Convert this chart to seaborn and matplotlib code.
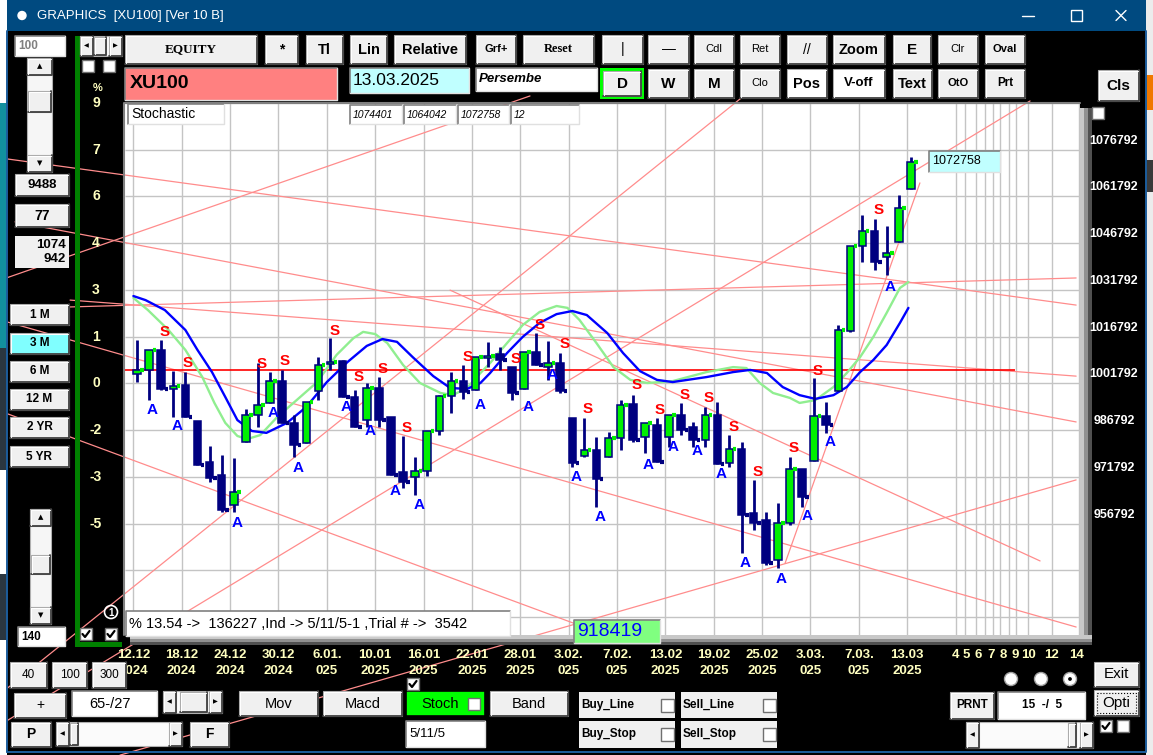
import matplotlib
matplotlib.use("Agg")
import matplotlib.pyplot as plt
import matplotlib.patches as mpatches
import matplotlib.transforms as mtransforms
from matplotlib import font_manager
import numpy as np
import seaborn as sns

# XU100 daily candles, 12.12.2024 .. 13.03.2025 (index points)
opens = [1004800, 1006100, 1012500, 1000000, 1001300, 989700, 976500, 972400, 962800, 983000,
         991600, 995500, 1002500, 989100, 982600, 999300, 1008000, 1009000, 997400, 990000,
         1000300, 991000, 973300, 971700, 973700, 986500, 997700, 1002500, 999700, 1009900,
         1011200, 1007000, 1000000, 1011800, 1007000, 1008300, 990700, 978500, 980400, 978200,
         984300, 995200, 984600, 988400, 984600, 991600, 987800, 983600, 991600, 976200,
         980700, 960200, 957900, 945100, 957000, 974300, 976900, 991300, 999300, 1018600,
         1045900, 1050700, 1042300, 1047100, 1064042]
highs = [1015700, 1012500, 1015700, 1005700, 1005400, 989700, 981700, 978800, 977800, 993600,
         1008300, 1005400, 1006100, 991600, 995800, 1010200, 1016300, 1009300, 999700, 1001900,
         1003800, 991000, 984900, 978200, 986500, 998000, 1005400, 1007700, 1010200, 1015100,
         1013400, 1007000, 1011800, 1017900, 1015400, 1011500, 990700, 990700, 984600, 986200,
         996400, 998000, 989100, 990700, 991600, 995500, 989400, 994200, 995800, 985200,
         983000, 970800, 960500, 963400, 978200, 974300, 1003500, 995800, 1020500, 1045900,
         1055800, 1054500, 1052300, 1062200, 1074401]
lows = [1002200, 996400, 999700, 991000, 991000, 975600, 970100, 960500, 960500, 983000,
        987800, 995500, 989100, 978200, 982600, 996400, 1006100, 997400, 987800, 987800,
        987800, 972400, 968200, 966000, 972100, 985200, 992300, 996800, 999700, 1007000,
        1006100, 996400, 1000000, 1007700, 1002900, 998700, 974900, 978200, 962100, 978200,
        980400, 983000, 979400, 976500, 981400, 985200, 981400, 981400, 975900, 974900,
        947400, 954700, 943500, 942500, 956400, 962100, 976900, 985900, 999300, 1018300,
        1040700, 1038200, 1036500, 1047100, 1064042]
closes = [1006100, 1012500, 1000000, 1000900, 991000, 975600, 971400, 961100, 966900, 991600,
          994800, 1002500, 989100, 982000, 995800, 1007700, 1008600, 997400, 987800, 1000300,
          990000, 972400, 970100, 973700, 986500, 997700, 1002500, 999000, 1010200, 1010600,
          1009300, 998700, 1011800, 1007700, 1008300, 999300, 976200, 980400, 971100, 984300,
          994800, 983600, 989100, 976500, 991600, 986800, 983600, 991600, 975900, 980700,
          959500, 957000, 944100, 957000, 974300, 965300, 991300, 988400, 1018900, 1045900,
          1050700, 1040700, 1043600, 1058000, 1072758]

# stochastic overlay curves (day, level)
blue_day = [0.0, 1.0, 2.6, 4.3, 5.3, 6.5, 7.6, 8.6, 9.8, 11.0, 12.7, 14.3, 16.0, 17.7, 19.3, 20.6,
            21.8, 23.1, 24.8, 26.2, 27.6, 28.7, 29.5, 30.9, 32.2, 33.6, 35.0, 36.3, 37.5, 39.2,
            40.5, 41.9, 43.3, 44.6, 47.4, 49.6, 51.0, 52.4, 53.7, 55.1, 56.4, 57.9, 59.0, 60.1,
            61.2, 62.3, 63.4, 64.1]
blue_val = [1029800, 1028500, 1025300, 1018900, 1012500, 1005400, 997400, 990000, 986500, 985900,
            989100, 994200, 1002200, 1008600, 1013800, 1016000, 1015100, 1010200, 1004100, 1000300,
            1000000, 1001900, 1005100, 1011500, 1016700, 1021200, 1024000, 1025000, 1023700, 1017900,
            1011500, 1005700, 1002900, 1002200, 1003800, 1005400, 1006100, 1005100, 1000600, 998000,
            996800, 998000, 1000600, 1005400, 1009300, 1014100, 1021200, 1026000]
green_day = [0.0, 1.2, 2.9, 4.3, 5.7, 6.7, 7.6, 8.6, 9.4, 10.5, 11.9, 13.5, 15.2, 16.8, 18.2, 19.0,
             20.0, 21.0, 22.3, 23.7, 25.4, 26.4, 27.6, 28.7, 29.5, 30.9, 32.2, 33.6, 35.0, 35.9,
             36.9, 38.3, 39.7, 41.1, 42.5, 44.6, 47.4, 49.6, 50.7, 51.8, 52.9, 54.3, 55.1, 56.4,
             57.9, 59.0, 60.1, 61.2, 62.3, 63.4, 64.1]
green_val = [1029200, 1025300, 1018900, 1012500, 1003800, 995500, 989100, 984900, 983900, 985200,
             991000, 996400, 1002200, 1010900, 1016300, 1018300, 1017600, 1014700, 1007700, 1001900,
             998700, 998000, 1000300, 1005100, 1008300, 1014700, 1020500, 1024700, 1026600, 1026000,
             1022100, 1014700, 1007000, 1002900, 1001900, 1002500, 1005400, 1007000, 1006700, 1001900,
             998700, 997100, 995500, 996400, 1000600, 1005100, 1010200, 1016700, 1024400, 1032400,
             1034300]

# signal marks
sell_day = [2.60, 4.52, 10.60, 12.54, 16.63, 18.62, 20.65, 22.61, 27.66, 31.60, 33.63, 35.68,
            37.60, 41.61, 43.56, 45.62, 47.61, 49.64, 51.64, 54.64, 56.63, 61.64]
sell_val = [1018300, 1008200, 1008000, 1009000, 1018700, 1003800, 1006400, 987500, 1010200,
            1009600, 1020600, 1014300, 993600, 1001100, 993200, 998200, 997100, 987800, 973400,
            980900, 1005800, 1057500]
buy_day = [1.53, 3.61, 8.60, 11.57, 13.60, 17.61, 19.60, 21.64, 23.62, 28.67, 32.64, 34.67,
           36.65, 38.64, 42.56, 44.66, 46.66, 48.63, 50.63, 53.56, 55.70, 57.62, 62.56]
buy_val = [993200, 988100, 957000, 992300, 974600, 994200, 986500, 967200, 962800, 994800,
           994300, 1004500, 971600, 958900, 975600, 981500, 980200, 972700, 944000, 938900,
           959300, 983000, 1032700]

# drawn trend lines: start day, start level, end day, end level
trend_x0 = [-10.45, -9.79, -11.03, -5.24, -5.24, -10.45, 26.19, -11.03, -11.03, -11.03, -1.11, 53.9]
trend_y0 = [1073800, 1053600, 1034900, 1026300, 1028500, 1021500, 1031700, 992900, 902100,
            892200, 882500, 944100]
trend_x1 = [77.97, 77.97, 32.8, 77.97, 77.97, 77.97, 74.99, 38.59, 50.58, 74.16, 77.97, 65.05]
trend_y1 = [1026900, 989400, 1094000, 1035600, 1004100, 923600, 944800, 921700, 1094300,
            1092400, 970800, 1066100]
ref_level = 1006100

price_grid = [926792, 941792, 956792, 971792, 986792, 1001792, 1016792, 1031792, 1046792,
              1061792, 1076792, 1091792]
right_labels = [1076792, 1061792, 1046792, 1031792, 1016792, 1001792, 986792, 971792, 956792]
pct_levels = [1091792, 1076792, 1061792, 1046792, 1031792, 1016792, 1001792, 986792, 971792, 956792]
pct_labels = ["9", "7", "6", "4", "3", "1", "0", "-2", "-3", "-5"]

date_top = ["12.12", "18.12", "24.12", "30.12", "6.01.", "10.01", "16.01", "22.01", "28.01",
            "3.02.", "7.02.", "13.02", "19.02", "25.02", "3.03.", "7.03.", "13.03"]
date_bottom = ["2024", "2024", "2024", "2024", "025", "2025", "2025", "2025", "2025",
               "025", "025", "2025", "2025", "2025", "025", "025", "2025"]
date_pos = np.arange(0, 65, 4)
future_grid = [68.0, 68.8, 69.7, 70.4, 71.1, 71.7, 72.4, 73.0, 74.0, 76.0, 78.2]
future_labels = ["4", "5", "6", "7", "8", "9", "10", "12", "14"]
future_pos = [68.0, 68.9, 69.9, 70.95, 71.95, 72.9, 74.0, 75.95, 78.0]

# ---------------------------------------------------------------- setup
sns.set_style("white")
narrow_ok = any(f.name == "Liberation Sans Narrow" for f in font_manager.fontManager.ttflist)
NARROW = "Liberation Sans Narrow" if narrow_ok else "Liberation Sans"
NARROW_FS = 11 if narrow_ok else 9.5
plt.rcParams["font.family"] = ["Liberation Sans", "DejaVu Sans"]

W, H = 1153, 755
fig = plt.figure(figsize=(W / 100, H / 100), dpi=100, facecolor="black")

XL = (-0.695, 78.29)
YL = (921040, 1091740)
ax = fig.add_axes([125 / W, 1 - 635 / H, 955 / W, 532 / H], zorder=2)
ax.set_facecolor("white")

NAVY = "#000080"
LIME = "#00f000"

# grid
ax.vlines(list(date_pos) + future_grid, YL[0], YL[1], color="#c4c4c4", lw=1.0, zorder=0.5)
ax.hlines(price_grid, XL[0], XL[1], color="#c4c4c4", lw=1.0, zorder=0.5)

# trend lines spill over the whole window like in the original tool
for x0, y0, x1, y1 in zip(trend_x0, trend_y0, trend_x1, trend_y1):
    ax.plot([x0, x1], [y0, y1], color="#ff8c8c", lw=0.9, clip_on=False, zorder=1)
ax.hlines(ref_level, XL[0], 72.9, color="#ff0000", lw=1.2, zorder=1.2)

# stochastic curves
sns.lineplot(x=green_day, y=green_val, ax=ax, color="#90ee90", lw=1.7, zorder=2)
sns.lineplot(x=blue_day, y=blue_val, ax=ax, color="#0000ff", lw=1.7, zorder=2.1)

# candles
o = np.array(opens)
c = np.array(closes)
xs = np.arange(len(opens)) + 0.3
up = c >= o
ax.vlines(xs, lows, highs, color=NAVY, lw=2.0, zorder=3)
ax.bar(xs, np.maximum(np.abs(c - o), 400), bottom=np.minimum(o, c), width=0.62,
       color=np.where(up, LIME, NAVY), edgecolor=NAVY, linewidth=1.1, zorder=4)
ax.hlines(c, xs + 0.28, xs + 0.58, colors=np.where(up, LIME, NAVY), lw=3.0, zorder=4)

for d, p in zip(sell_day, sell_val):
    ax.text(d, p, "S", color="#ff0000", fontsize=11, fontweight="bold",
            ha="center", va="center", zorder=5)
for d, p in zip(buy_day, buy_val):
    ax.text(d, p, "A", color="#0000ff", fontsize=11, fontweight="bold",
            ha="center", va="center", zorder=5)

ax.set_xlim(*XL)
ax.set_ylim(*YL)
ax.set_xticks([])
ax.set_yticks([])
ax.set_xlabel("")
ax.set_ylabel("")
for s in ax.spines.values():
    s.set_visible(False)

# ---------------------------------------------------------------- window chrome
ui = fig.add_axes([0, 0, 1, 1], zorder=5)
ui.set_xlim(0, W)
ui.set_ylim(H, 0)
ui.axis("off")
ui.patch.set_alpha(0)


def rect(x0, y0, x1, y1, face, edge="none", lw=1.0, z=1, ls="-"):
    ui.add_patch(mpatches.Rectangle((x0, y0), x1 - x0, y1 - y0, facecolor=face,
                                    edgecolor=edge, linewidth=lw, linestyle=ls, zorder=z))


def label(x, y, s, fs=9, weight="bold", color="black", ha="center", z=8, **kw):
    ui.text(x, y, s, fontsize=fs, fontweight=weight, color=color, ha=ha,
            va="center", zorder=z, **kw)


def button(x0, y0, x1, y1, s="", fs=9, weight="bold", face="#f0f0f0", **kw):
    rect(x0, y0, x1, y1, face, edge="#a8a8a8", lw=0.8, z=6)
    ui.plot([x0, x1, x1], [y1, y1, y0], color="#404040", lw=1.3, zorder=7)
    ui.plot([x0 + 1, x0 + 1, x1 - 1], [y1 - 1, y0 + 1, y0 + 1], color="white", lw=0.8, zorder=7)
    if s:
        label((x0 + x1) / 2, (y0 + y1) / 2, s, fs=fs, weight=weight, **kw)


def field(x0, y0, x1, y1, s="", fs=9, weight="normal", face="white", tx=None, **kw):
    rect(x0, y0, x1, y1, face, z=6)
    ui.plot([x0, x0, x1], [y1, y0, y0], color="#808080", lw=1.2, zorder=7)
    ui.plot([x0, x1, x1], [y1, y1, y0], color="#e0e0e0", lw=1.0, zorder=7)
    if s:
        label(x0 + 3 if tx is None else tx, (y0 + y1) / 2, s, fs=fs, weight=weight, ha="left", **kw)


def checkbox(x0, y0, size=12, checked=False):
    rect(x0, y0, x0 + size, y0 + size, "white", edge="#707070", lw=1.0, z=9)
    if checked:
        ui.plot([x0 + 2.5, x0 + 5, x0 + 9.5], [y0 + 6, y0 + 9, y0 + 3], color="black",
                lw=1.6, zorder=10)


def vscroll(x0, y0, x1, y1, t0, t1):
    rect(x0, y0, x1, y1, "#f6f6f6", edge="#b0b0b0", lw=0.8, z=6)
    button(x0, y0, x1, y0 + 17, "\u25b2", fs=5, weight="normal", family="DejaVu Sans")
    button(x0, y1 - 17, x1, y1, "\u25bc", fs=5, weight="normal", family="DejaVu Sans")
    button(x0 + 1, t0, x1 - 1, t1)


def hscroll(x0, y0, x1, y1, t0, t1):
    rect(x0, y0, x1, y1, "#fbfbfb", edge="#b0b0b0", lw=0.8, z=6)
    button(x0, y0, x0 + 13, y1, "\u25c0", fs=4.5, weight="normal", family="DejaVu Sans")
    button(x1 - 13, y0, x1, y1, "\u25b6", fs=4.5, weight="normal", family="DejaVu Sans")
    button(t0, y0 + 1, t1, y1 - 1)


# desktop peeking out at the edges
rect(0, 0, 7, H, "white", z=1)
rect(0, 103, 7, 348, "#12909e", z=1)
rect(0, 348, 7, 470, "#2a3640", z=1)
rect(0, 574, 7, 640, "#2a3640", z=1)
rect(1146, 0, W, H, "#ececec", z=1)
rect(1146, 75, W, 110, "#f07800", z=1)
rect(1146, 160, W, 192, "#3a3a3a", z=1)
ui.plot([7, 7], [31, 752], color="#1c5d9c", lw=1.4, zorder=2)
ui.plot([7, 1146, 1146], [752, 752, 31], color="#1c5d9c", lw=1.4, zorder=2)

# title bar
rect(7, 0, 1146, 31, "#004a80", z=1)
ui.add_patch(mpatches.Circle((22, 15.5), 4, facecolor="white", zorder=3))
label(37, 15.5, "GRAPHICS  [XU100] [Ver 10 B]", fs=9.5, weight="normal", color="white", ha="left")
ui.plot([1022, 1034], [15.5, 15.5], color="white", lw=1)
rect(1071, 10, 1082, 21, "none", edge="white", lw=1, z=3)
ui.plot([1116, 1126], [10.5, 20.5], color="white", lw=1)
ui.plot([1116, 1126], [20.5, 10.5], color="white", lw=1)

# top button rows
serif = ["Liberation Serif", "DejaVu Serif"]
button(125, 35, 257, 64, "EQUITY", fs=9.5, family=serif)
button(265, 35, 298, 64, "*", fs=10)
button(306, 35, 343, 64, "Tl", fs=10.5)
button(350, 35, 387, 64, "Lin", fs=10.5)
button(394, 35, 466, 64, "Relative", fs=10.5)
button(476, 35, 516, 64, "Grf+", fs=8)
button(523, 35, 594, 64, "Reset", fs=9, family=serif)
button(602, 35, 643, 64, "|", fs=10, weight="normal")
button(648, 35, 689, 64, "\u2014", fs=10, weight="normal")
button(694, 35, 734, 64, "Cdl", fs=8, weight="normal")
button(740, 35, 780, 64, "Ret", fs=8, weight="normal")
button(787, 35, 827, 64, "//", fs=10, weight="normal")
button(833, 35, 885, 64, "Zoom", fs=10.5)
button(893, 35, 931, 64, "E", fs=11)
button(938, 35, 978, 64, "Clr", fs=8, weight="normal")
button(985, 35, 1025, 64, "Oval", fs=8)

field(125, 68, 337, 100, "XU100", fs=14, weight="bold", face="#ff8080", tx=130)
field(350, 68, 469, 93, "13.03.2025", fs=12.5, face="#c0ffff")
field(476, 68, 597, 91, "Persembe", fs=9.5, weight="bold", style="italic")
rect(600, 68, 644, 99, "#00ff00", z=5)
button(603, 71, 641, 96, "D", fs=11)
button(648, 69, 689, 98, "W", fs=11)
button(694, 69, 734, 98, "M", fs=11)
button(740, 69, 780, 98, "Clo", fs=8, weight="normal")
button(787, 69, 827, 98, "Pos", fs=10.5, face="white")
button(833, 69, 885, 98, "V-off", fs=9.5, face="white")
button(893, 69, 932, 98, "Text", fs=10.5)
button(938, 69, 978, 98, "OtO", fs=8)
button(985, 69, 1025, 98, "Prt", fs=8.5)
button(1098, 70, 1139, 101, "Cls", fs=11)

# left panel
field(15, 36, 65, 56, "100", fs=8.5, weight="bold", color="#808080")
vscroll(27, 58, 52, 172, 91, 112)
hscroll(80, 36, 122, 56, 94, 106)
checkbox(82, 60)
checkbox(103, 60)
rect(75, 36, 80, 647, "#008000", z=3)
rect(75, 642, 122, 647, "#008000", z=3)
label(98, 88, "%", fs=8, color="#ffffc0")
button(15, 174, 69, 196, "9488", fs=9.5)
button(15, 204, 69, 227, "77", fs=10)
rect(15, 236, 69, 268, "#f0f0f0", z=6)
label(66, 245, "1074", fs=9.5, ha="right")
label(66, 259, "942", fs=9.5, ha="right")
for (y0, y1), s in zip([(304, 325), (333, 354), (361, 382), (389, 410), (417, 438), (446, 467)],
                       ["1 M", "3 M", "6 M", "12 M", "2 YR", "5 YR"]):
    button(10, y0, 69, y1, s, fs=8.5, face="#80ffff" if s == "3 M" else "#f0f0f0")
vscroll(30, 509, 51, 624, 555, 574)
field(18, 627, 65, 646, "140", fs=8.5, weight="bold")
checkbox(80, 628, checked=True)
checkbox(105, 628, checked=True)
ui.add_patch(mpatches.Circle((111, 612), 6.5, facecolor="none", edgecolor="white", lw=1.2, zorder=8))
label(111, 612.5, "1", fs=7, color="white")

# chart frame and shadow
ui.plot([124, 124, 1080], [635, 103, 103], color="#808080", lw=1.5, zorder=3)
rect(1080, 108, 1084, 645, "#c8c8c8", z=3)
rect(1084, 108, 1088, 645, "#909090", z=3)
rect(1088, 108, 1092, 645, "#505050", z=3)
rect(130, 635, 1092, 639, "#c8c8c8", z=3)
rect(130, 639, 1092, 642, "#909090", z=3)
rect(130, 642, 1092, 645, "#505050", z=3)

# boxes drawn on the chart
field(128, 104, 224, 124, "Stochastic", fs=10)
for (x0, x1), s in zip([(350, 402), (404, 456), (458, 509), (511, 579)],
                       ["1074401", "1064042", "1072758", "12"]):
    field(x0, 105, x1, 124, s, fs=7.5, style="italic")
field(929, 151, 1000, 172, "1072758", fs=9, face="#c0ffff")
checkbox(1092, 107)
field(126, 611, 510, 636, "% 13.54 ->  136227 ,Ind -> 5/11/5-1 ,Trial # ->  3542", fs=10.5)
field(574, 620, 660, 643, "918419", fs=14, face="#80ff80", color="#0000ff")

# axis labels
ty = mtransforms.blended_transform_factory(ui.transData, ax.transData)
ty_up = mtransforms.offset_copy(ty, fig=fig, x=0, y=9, units="dots")
for v in right_labels:
    ui.text(1114, v, str(v), transform=ty_up, fontsize=NARROW_FS - 0.5, fontweight="bold",
            family=NARROW, color="white", ha="center", va="center", zorder=4)
for v, s in zip(pct_levels, pct_labels):
    ui.text(96, v, s, transform=ty, fontsize=10, fontweight="bold", color="#ffffc0",
            ha="center", va="center", zorder=4)

tx = mtransforms.blended_transform_factory(ax.transData, ui.transData)
for d, a, b in zip(date_pos, date_top, date_bottom):
    ui.text(d, 655, a, transform=tx, fontsize=NARROW_FS, fontweight="bold", family=NARROW,
            color="#ffffc0", ha="center", va="center", zorder=4)
    ui.text(d, 671.5, b, transform=tx, fontsize=NARROW_FS, fontweight="bold", family=NARROW,
            color="#ffffc0", ha="center", va="center", zorder=4)
for d, s in zip(future_pos, future_labels):
    ui.text(d, 655, s, transform=tx, fontsize=NARROW_FS, fontweight="bold", family=NARROW,
            color="#ffffc0", ha="center", va="center", zorder=4)

# bottom controls
button(10, 662, 47, 688, "40", fs=8.5, weight="normal")
button(52, 662, 87, 688, "100", fs=8.5, weight="normal")
button(92, 662, 126, 688, "300", fs=8.5, weight="normal")
button(14, 693, 66, 718, "+", fs=10, weight="normal")
field(72, 691, 157, 716, "65-/27", fs=10.5, tx=89)
hscroll(163, 691, 222, 713, 180, 207)
button(11, 722, 51, 747, "P", fs=10)
hscroll(56, 722, 182, 746, 70, 78)
button(190, 722, 229, 747, "F", fs=10)
button(239, 691, 318, 716, "Mov", fs=10.5, weight="normal")
button(323, 691, 402, 716, "Macd", fs=10.5, weight="normal")
checkbox(407, 678, checked=True)
rect(406, 691, 485, 716, "#00ff00", edge="black", lw=1.2, z=6)
label(440, 703.5, "Stoch", fs=10.5, weight="normal")
checkbox(468, 698)
button(490, 691, 568, 716, "Band", fs=10.5, weight="normal")
field(406, 721, 485, 747, "5/11/5", fs=9.5)
for (x0, x1), (y0, y1), s in zip([(579, 675), (681, 777), (579, 675), (681, 777)],
                                 [(692, 718), (692, 718), (721, 748), (721, 748)],
                                 ["Buy_Line", "Sell_Line", "Buy_Stop", "Sell_Stop"]):
    rect(x0, y0, x1, y1, "#f0f0f0", z=6)
    label(x0 + 2, (y0 + y1) / 2, s, fs=8.5, ha="left")
    checkbox(x1 - 14, (y0 + y1) / 2 - 6.5, size=13)

for i, xr in enumerate([1011, 1041, 1070]):
    ui.add_patch(mpatches.Circle((xr, 679), 6.5, facecolor="white", edgecolor="#a0a0a0",
                                 lw=1.0, zorder=8))
    if i == 2:
        ui.add_patch(mpatches.Circle((xr, 679), 2.6, facecolor="black", zorder=9))
button(1094, 662, 1139, 687, "Exit", fs=11, weight="normal")
button(950, 692, 994, 719, "PRNT", fs=8.5)
field(998, 692, 1085, 719, "15  -/  5", fs=8.5, weight="bold", tx=1022)
button(1094, 690, 1139, 716, "Opti", fs=11, weight="normal")
rect(1097, 693, 1136, 713, "none", edge="black", lw=0.8, z=8, ls=":")
hscroll(966, 722, 1093, 748, 1068, 1076)
checkbox(1100, 720, checked=True)
checkbox(1117, 720)

fig.savefig("out.png", dpi=100, facecolor="black")
